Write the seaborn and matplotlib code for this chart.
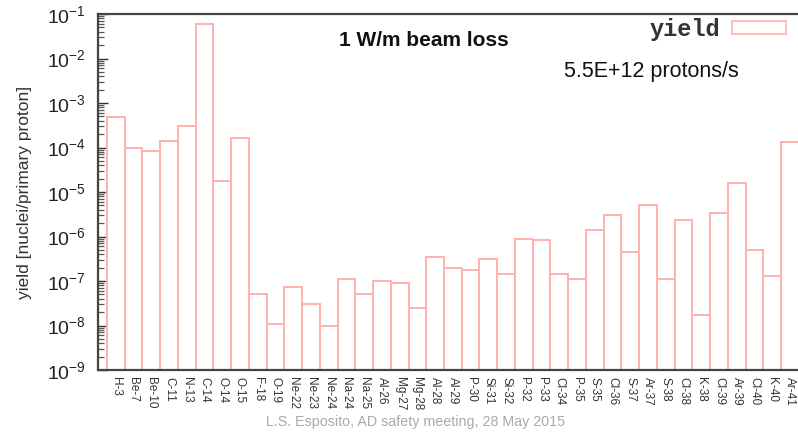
import matplotlib
matplotlib.use("Agg")
import matplotlib.pyplot as plt
import seaborn as sns
import pandas as pd
from matplotlib.patches import Patch
from matplotlib.ticker import LogLocator, NullFormatter

isotopes = ["H-3", "Be-7", "Be-10", "C-11", "N-13", "C-14", "O-14", "O-15", "F-18", "O-19",
            "Ne-22", "Ne-23", "Ne-24", "Na-24", "Na-25", "Al-26", "Mg-27", "Mg-28", "Al-28", "Al-29",
            "P-30", "Si-31", "Si-32", "P-32", "P-33", "Cl-34", "P-35", "S-35", "Cl-36", "S-37",
            "Ar-37", "S-38", "Cl-38", "K-38", "Cl-39", "Ar-39", "Cl-40", "K-40", "Ar-41"]
yield_values = [4.9e-4, 1.0e-4, 8.5e-5, 1.4e-4, 3.0e-4, 6.0e-2, 1.8e-5, 1.6e-4, 5.0e-8, 1.1e-8,
                7.5e-8, 3.0e-8, 9.5e-9, 1.1e-7, 5.0e-8, 1.0e-7, 9.0e-8, 2.5e-8, 3.5e-7, 2.0e-7,
                1.8e-7, 3.2e-7, 1.4e-7, 9.0e-7, 8.5e-7, 1.4e-7, 1.1e-7, 1.4e-6, 3.0e-6, 4.5e-7,
                5.0e-6, 1.1e-7, 2.3e-6, 1.7e-8, 3.3e-6, 1.6e-5, 5.0e-7, 1.3e-7, 1.3e-4]

df = pd.DataFrame({"isotope": isotopes, "yield": yield_values})

sns.set_style("white")
plt.rcParams["font.family"] = ["Liberation Sans", "DejaVu Sans"]

fig = plt.figure(figsize=(7.98, 4.33), dpi=100)
ax = fig.add_axes([98 / 798, 1 - 370 / 433, 1 - 98 / 798, (370 - 14) / 433])

edge = "#ffb0b0"
sns.barplot(data=df, x="isotope", y="yield", order=isotopes, ax=ax, width=1.0,
            color="white", edgecolor=edge, linewidth=1.4, saturation=1)

ax.set_yscale("log")
ax.set_ylim(1e-9, 1e-1)
ax.set_xlim(-1.0, 38.45)

ax.yaxis.set_major_locator(LogLocator(base=10, numticks=20))
ax.yaxis.set_minor_locator(LogLocator(base=10, subs=(2, 3, 4, 5, 6, 7, 8, 9), numticks=100))
ax.yaxis.set_minor_formatter(NullFormatter())

ax.set_xticks(range(len(isotopes)))
ax.set_xticklabels(isotopes, rotation=270, fontsize=8.5, color="#333333", va="top", ha="center")
ax.tick_params(axis="x", direction="in", length=4, width=1, colors="#333333", pad=5,
               bottom=True, labelcolor="#333333")
ax.tick_params(axis="y", which="major", direction="in", length=7, width=1, colors="#333333",
               labelsize=14, pad=9, left=True, labelcolor="#222222")
ax.tick_params(axis="y", which="minor", direction="in", length=4, width=0.9, colors="#555555", left=True)

for side in ["left", "bottom", "top"]:
    ax.spines[side].set_color("#444444")
    ax.spines[side].set_linewidth(1.6)
ax.spines["right"].set_visible(False)

ax.set_xlabel("")
ax.set_ylabel("yield [nuclei/primary proton]", fontsize=12.5, color="#333333")
ax.yaxis.set_label_coords(-0.094, 0.5)

fig.text(424 / 798, 1 - 40 / 433, "1 W/m beam loss", fontsize=15, fontweight="bold",
         ha="center", va="center", color="#111111")
fig.text(651 / 798, 1 - 72 / 433, "5.5E+12 protons/s", fontsize=15.5,
         ha="center", va="center", color="#111111")
fig.text(416 / 798, 1 - 422 / 433, "L.S. Esposito, AD safety meeting, 28 May 2015", fontsize=10.3,
         ha="center", va="center", color="#aaaaaa")

handle = Patch(facecolor="white", edgecolor=edge, linewidth=1.2)
leg = ax.legend(handles=[handle], labels=["yield"], loc="upper right",
                bbox_to_anchor=(786 / 798, 1 - 18 / 433), bbox_transform=fig.transFigure,
                frameon=False, markerfirst=False, borderaxespad=0, borderpad=0,
                handlelength=2.3, handleheight=0.5, handletextpad=0.5,
                prop={"family": ["Liberation Mono", "DejaVu Sans Mono"], "weight": "bold", "size": 17})
for t in leg.get_texts():
    t.set_color("#333333")

fig.savefig("out.png", dpi=100)
